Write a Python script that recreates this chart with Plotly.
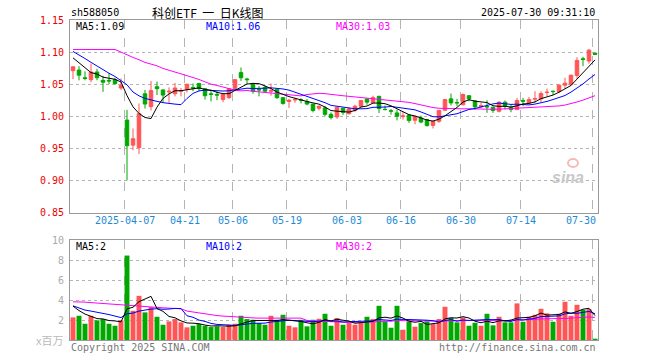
import plotly.graph_objects as go
import pandas as pd

# ---------------- data ----------------
dates = [
    "2025-03-24", "2025-03-25", "2025-03-26", "2025-03-27", "2025-03-28", "2025-03-31",
    "2025-04-01", "2025-04-02", "2025-04-03", "2025-04-07", "2025-04-08", "2025-04-09",
    "2025-04-10", "2025-04-11", "2025-04-14", "2025-04-15", "2025-04-16", "2025-04-17",
    "2025-04-18", "2025-04-21", "2025-04-22", "2025-04-23", "2025-04-24", "2025-04-25",
    "2025-04-28", "2025-04-29", "2025-04-30", "2025-05-06", "2025-05-07", "2025-05-08",
    "2025-05-09", "2025-05-12", "2025-05-13", "2025-05-14", "2025-05-15", "2025-05-16",
    "2025-05-19", "2025-05-20", "2025-05-21", "2025-05-22", "2025-05-23", "2025-05-26",
    "2025-05-27", "2025-05-28", "2025-05-29", "2025-05-30", "2025-06-03", "2025-06-04",
    "2025-06-05", "2025-06-06", "2025-06-09", "2025-06-10", "2025-06-11", "2025-06-12",
    "2025-06-13", "2025-06-16", "2025-06-17", "2025-06-18", "2025-06-19", "2025-06-20",
    "2025-06-23", "2025-06-24", "2025-06-25", "2025-06-26", "2025-06-27", "2025-06-30",
    "2025-07-01", "2025-07-02", "2025-07-03", "2025-07-04", "2025-07-07", "2025-07-08",
    "2025-07-09", "2025-07-10", "2025-07-11", "2025-07-14", "2025-07-15", "2025-07-16",
    "2025-07-17", "2025-07-18", "2025-07-21", "2025-07-22", "2025-07-23", "2025-07-24",
    "2025-07-25", "2025-07-28", "2025-07-29", "2025-07-30",
]

open_ = [
    1.071, 1.072, 1.060, 1.057, 1.069, 1.056, 1.056, 1.057, 1.044, 0.994,
    0.955, 0.951, 1.035, 1.015, 1.046, 1.041, 1.038, 1.035, 1.039, 1.042,
    1.045, 1.051, 1.043, 1.035, 1.034, 1.026, 1.029, 1.043, 1.068, 1.058,
    1.051, 1.042, 1.045, 1.039, 1.042, 1.029, 1.023, 1.0255, 1.0255, 1.023,
    1.019, 1.0125, 1.013, 1.003, 0.999, 1.0125, 1.004, 1.009, 1.0156, 1.027,
    1.021, 1.031, 1.0108, 1.0085, 1.0052, 0.9995, 1.0018, 0.9938, 0.9974, 0.9948,
    0.9857, 0.9922, 1.0094, 1.0271, 1.0215, 1.018, 1.032, 1.024, 1.0146, 1.0151,
    1.014, 1.0078, 1.0219, 1.0141, 1.0104, 1.0245, 1.0208, 1.0266, 1.0271, 1.037,
    1.0391, 1.0385, 1.0484, 1.050, 1.0635, 1.0895, 1.086, 1.0984,
]
high = [
    1.078, 1.078, 1.070, 1.082, 1.074, 1.063, 1.067, 1.060, 1.059, 1.010,
    0.981, 1.020, 1.041, 1.055, 1.054, 1.042, 1.045, 1.052, 1.044, 1.050,
    1.051, 1.052, 1.043, 1.040, 1.039, 1.034, 1.043, 1.058, 1.076, 1.060,
    1.052, 1.047, 1.048, 1.051, 1.042, 1.029, 1.027, 1.029, 1.028, 1.027,
    1.019, 1.017, 1.016, 1.006, 1.0145, 1.0125, 1.0135, 1.018, 1.025, 1.0275,
    1.032, 1.032, 1.0167, 1.0115, 1.0104, 1.0065, 1.002, 1.0005, 1.001, 0.996,
    0.993, 1.010, 1.0271, 1.0354, 1.0271, 1.0354, 1.033, 1.025, 1.0208, 1.025,
    1.015, 1.0234, 1.0245, 1.0182, 1.0286, 1.0286, 1.030, 1.039, 1.039, 1.0432,
    1.0396, 1.050, 1.0599, 1.0646, 1.092, 1.0927, 1.105, 1.099,
]
low = [
    1.058, 1.056, 1.056, 1.053, 1.056, 1.038, 1.050, 1.049, 1.041, 0.900,
    0.947, 0.941, 1.012, 1.009, 1.033, 1.022, 1.021, 1.031, 1.031, 1.037,
    1.039, 1.039, 1.026, 1.023, 1.025, 1.022, 1.027, 1.042, 1.055, 1.050,
    1.035, 1.031, 1.037, 1.032, 1.027, 1.018, 1.013, 1.021, 1.020, 1.017,
    1.006, 1.009, 1.000, 0.995, 0.996, 1.002, 1.0026, 1.007, 1.0146, 1.018,
    1.0208, 1.005, 1.0094, 1.0026, 0.9935, 0.9948, 0.9896, 0.9875, 0.989, 0.984,
    0.981, 0.9896, 1.008, 1.0167, 1.0156, 1.017, 1.0234, 1.0104, 1.013, 1.0052,
    1.0052, 1.006, 1.0104, 1.0063, 1.010, 1.0156, 1.020, 1.0208, 1.0214, 1.031,
    1.0333, 1.036, 1.0427, 1.0474, 1.0583, 1.078, 1.0818, 1.096,
]
close = [
    1.077, 1.064, 1.059, 1.069, 1.060, 1.053, 1.055, 1.051, 1.048, 0.954,
    0.965, 1.004, 1.019, 1.040, 1.043, 1.033, 1.039, 1.044, 1.040, 1.050,
    1.044, 1.043, 1.032, 1.034, 1.033, 1.034, 1.043, 1.057, 1.060, 1.057,
    1.039, 1.041, 1.039, 1.040, 1.029, 1.020, 1.025, 1.026, 1.025, 1.019,
    1.009, 1.0155, 1.003, 0.998, 1.014, 1.006, 1.0115, 1.0156, 1.0245, 1.022,
    1.029, 1.012, 1.0104, 1.008, 1.000, 1.0005, 0.9935, 1.000, 0.991, 0.9854,
    0.9922, 1.009, 1.026, 1.0208, 1.0208, 1.0339, 1.027, 1.0146, 1.0167, 1.0146,
    1.009, 1.0219, 1.0156, 1.0104, 1.0245, 1.0234, 1.026, 1.0276, 1.0354, 1.0375,
    1.0385, 1.0484, 1.0516, 1.064, 1.087, 1.0885, 1.103, 1.0964,
]
volume = [  # millions
    2.27, 2.43, 1.63, 2.43, 1.97, 2.10, 1.63, 1.43, 1.97, 8.47,
    2.93, 4.43, 2.77, 3.30, 2.33, 1.53, 1.87, 2.10, 1.77, 1.27,
    1.43, 1.60, 1.43, 1.30, 1.37, 1.30, 1.53, 1.63, 2.43, 2.10,
    2.03, 1.70, 1.53, 2.43, 2.03, 2.53, 1.43, 1.27, 2.03, 1.37,
    2.03, 2.13, 2.63, 1.43, 2.20, 1.53, 1.70, 1.53, 1.70, 2.33,
    2.10, 3.43, 1.87, 1.23, 3.43, 1.03, 1.87, 1.33, 1.70, 1.87,
    1.60, 2.10, 3.33, 2.23, 1.77, 2.27, 1.43, 1.73, 1.43, 2.63,
    1.47, 2.33, 1.77, 1.77, 3.67, 1.83, 2.33, 2.53, 3.13, 2.67,
    1.83, 2.63, 3.83, 2.43, 3.53, 3.03, 3.10, 0.13,
]

# moving-average values before enough visible history exists
ma5_lead = [1.091, 1.083, 1.076, 1.068]
ma10_lead = [1.101, 1.096, 1.090, 1.084, 1.078, 1.072, 1.067, 1.062, 1.056]
ma30_lead = [1.104, 1.104, 1.104, 1.104, 1.104, 1.104, 1.104, 1.104, 1.100, 1.0953,
             1.0917, 1.088, 1.0839, 1.0813, 1.0786, 1.0745, 1.0719, 1.0682, 1.0661, 1.0635,
             1.0604, 1.0573, 1.0536, 1.050, 1.048, 1.0453, 1.0427, 1.0406, 1.0396]
vma5_lead = [3.40, 2.95, 2.60, 2.40]
vma10_lead = [3.43, 3.20, 3.00, 2.90, 2.80, 2.70, 2.55, 2.40, 2.25]
vma30_lead = [3.83, 3.83, 3.80, 3.75, 3.70, 3.67, 3.63, 3.60, 3.55, 3.50,
              3.45, 3.40, 3.35, 3.30, 3.27, 3.23, 3.20, 3.17, 3.13, 2.90,
              2.80, 2.70, 2.60, 2.50, 2.45, 2.40, 2.35, 2.30, 2.27]

# legend texts as printed on the chart
price_ma_labels = ["MA5:1.09", "MA10:1.06", "MA30:1.03"]
vol_ma_labels = ["MA5:2", "MA10:2", "MA30:2"]

tick_dates = ["2025-04-07", "2025-04-21", "2025-05-06", "2025-05-19", "2025-06-03",
              "2025-06-16", "2025-06-30", "2025-07-14", "2025-07-30"]
tick_labels = ["2025-04-07", "04-21", "05-06", "05-19", "06-03", "06-16", "06-30", "07-14", "07-30"]
price_ticks = [0.85, 0.90, 0.95, 1.00, 1.05, 1.10, 1.15]
vol_ticks = [2, 4, 6, 8, 10]

# ---------------- derived ----------------
def ma(series, n, lead):
    s = pd.Series(series).rolling(n).mean().tolist()
    return lead + s[len(lead):]

ma5 = ma(close, 5, ma5_lead)
ma10 = ma(close, 10, ma10_lead)
ma30 = ma(close, 30, ma30_lead)
vma5 = ma(volume, 5, vma5_lead)
vma10 = ma(volume, 10, vma10_lead)
vma30 = ma(volume, 30, vma30_lead)

x = list(range(len(dates)))
RED = "#ff5555"
GREEN = "#00a800"
vcolors = [RED if c >= o else GREEN for o, c in zip(open_, close)]
tickpos = [dates.index(d) - 0.4 for d in tick_dates]

# ---------------- geometry (page pixels) ----------------
W, H = 660, 360
PLOT_L, PLOT_R, PLOT_T, PLOT_B = 70, 598, 20, 340
L, R, T, B = PLOT_L, W - PLOT_R, PLOT_T, H - PLOT_B
PW, PH = PLOT_R - PLOT_L, PLOT_B - PLOT_T

def px(xp):
    return (xp - PLOT_L) / PW

def py(yp):
    return (PLOT_B - yp) / PH

MONO = "DejaVu Sans Mono"
fig = go.Figure()

fig.add_trace(go.Candlestick(
    x=x, open=open_, high=high, low=low, close=close,
    increasing=dict(line=dict(color=RED, width=1), fillcolor=RED),
    decreasing=dict(line=dict(color=GREEN, width=1), fillcolor=GREEN),
    whiskerwidth=0, xaxis="x", yaxis="y", showlegend=False, hoverinfo="skip"))

for vals, col in [(ma30, "#ff00ff"), (ma10, "#0000ff"), (ma5, "#000000")]:
    fig.add_trace(go.Scatter(x=x, y=vals, mode="lines", line=dict(color=col, width=1),
                             xaxis="x", yaxis="y", showlegend=False, hoverinfo="skip"))

fig.add_trace(go.Bar(x=x, y=volume, marker=dict(color=vcolors, line=dict(width=0)),
                     width=0.82, xaxis="x2", yaxis="y2", showlegend=False, hoverinfo="skip"))
for vals, col in [(vma30, "#ff00ff"), (vma10, "#0000ff"), (vma5, "#000000")]:
    fig.add_trace(go.Scatter(x=x, y=vals, mode="lines", line=dict(color=col, width=1),
                             xaxis="x2", yaxis="y2", showlegend=False, hoverinfo="skip"))

main_bottom = py(212.5)
vol_top = py(240.3)

axis_common = dict(showline=True, linecolor="#999999", linewidth=1, mirror=True,
                   zeroline=False, ticks="")
fig.update_layout(
    width=W, height=H, margin=dict(l=L, r=R, t=T, b=B, autoexpand=False),
    paper_bgcolor="white", plot_bgcolor="white",
    boxgap=0.16, hovermode=False,
    xaxis=dict(domain=[0, 1], anchor="y", range=[-0.5, len(x) - 0.5],
               tickmode="array", tickvals=tickpos, showticklabels=False,
               showgrid=True, gridcolor="#b4b4b4", griddash="dash", gridwidth=1,
               rangeslider=dict(visible=False), **axis_common),
    yaxis=dict(domain=[main_bottom, 1], anchor="x", range=[0.85, 1.15],
               tickmode="array", tickvals=price_ticks,
               ticktext=[f"{v:.2f}" for v in price_ticks],
               tickfont=dict(family=MONO, size=10, color="#ee0000"),
               showgrid=True, gridcolor="#b4b4b4", griddash="dot", gridwidth=1,
               ticklabelstandoff=3, **axis_common),
    xaxis2=dict(domain=[0, 1], anchor="y2", range=[-0.5, len(x) - 0.5], matches="x",
                tickmode="array", tickvals=tickpos, showticklabels=False,
                showgrid=True, gridcolor="#b4b4b4", griddash="dash", gridwidth=1,
                **axis_common),
    yaxis2=dict(domain=[0, vol_top], anchor="x2", range=[0, 10],
                tickmode="array", tickvals=vol_ticks, ticktext=[str(v) for v in vol_ticks],
                tickfont=dict(family=MONO, size=10, color="#aaaaaa"),
                showgrid=True, gridcolor="#b4b4b4", griddash="dot", gridwidth=1,
                ticklabelstandoff=3, **axis_common),
)

def txt(xp, yp, s, color="#000000", size=10, family=MONO, xanchor="left", **kw):
    fig.add_annotation(x=px(xp), y=py(yp), xref="paper", yref="paper", text=s,
                       showarrow=False, xanchor=xanchor, yanchor="middle",
                       font=dict(family=family, size=size, color=color), **kw)

# date labels under the price panel (last one kept inside the frame)
for k, (pos, lab) in enumerate(zip(tickpos, tick_labels)):
    last = k == len(tick_labels) - 1
    fig.add_annotation(x=(len(x) - 0.5) if last else pos, y=py(220.5), xref="x", yref="paper",
                       text=lab, showarrow=False, xanchor="right" if last else "center",
                       yanchor="middle", font=dict(family=MONO, size=10, color="#1e8ad6"))

txt(69, 12, "sh588050")
txt(150, 12, "科创ETF&nbsp;&nbsp;一&nbsp;&nbsp;日K线图", size=12, family="Noto Sans CJK SC")
txt(597, 12, "2025-07-30 09:31:10", xanchor="right")

for xpos, s, col in zip([74, 204, 334], price_ma_labels, ["#000000", "#0000ff", "#ff00ff"]):
    txt(xpos, 26, s, col)
for xpos, s, col in zip([74, 204, 334], vol_ma_labels, ["#000000", "#0000ff", "#ff00ff"]):
    txt(xpos, 246, s, col)

txt(65, 340, "x百万", "#bbbbbb", size=11, family="Noto Sans CJK SC", xanchor="right")
txt(69, 347, "Copyright 2025 SINA.COM", "#777777")
txt(598, 347, "http://finance.sina.com.cn", "#777777", xanchor="right")

txt(568, 177, "<b><i>sina</i></b>", "#c8c8c8", size=16, family="Liberation Sans", xanchor="center")
fig.add_shape(type="circle", xref="paper", yref="paper",
              x0=px(568), x1=px(578), y0=py(167), y1=py(159),
              line=dict(color="#f6b8b8", width=2), fillcolor="rgba(0,0,0,0)")

fig.write_html("out.html", config={"displayModeBar": False, "staticPlot": True},
               post_script="document.body.style.margin='0';")
